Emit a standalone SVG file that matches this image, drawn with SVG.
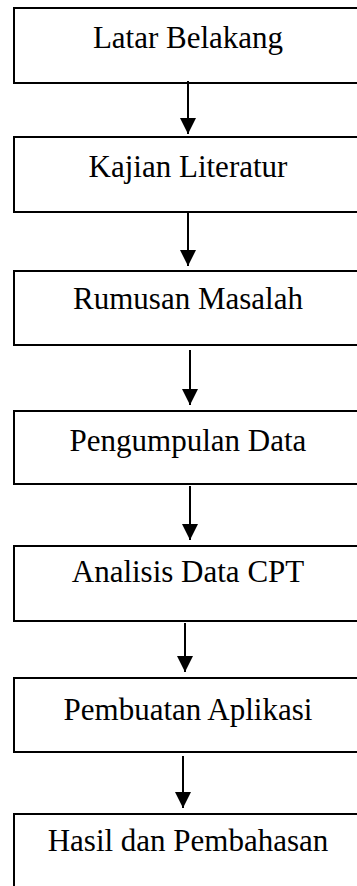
<svg xmlns="http://www.w3.org/2000/svg" width="357" height="886" viewBox="0 0 357 886">
<style>
.box{fill:#fff;stroke:#000;stroke-width:2}
.lbl{font-family:"Liberation Serif","Times New Roman",serif;font-size:31px;fill:#000;text-anchor:middle}
.con line{stroke:#000;stroke-width:2}
</style>
<defs>
<marker id="ah" viewBox="0 0 16 16" refX="16" refY="8" markerWidth="16" markerHeight="16" markerUnits="userSpaceOnUse" orient="auto">
<path d="M0,0 L16,8 L0,16 Z" fill="#000"/>
</marker>
</defs>
<rect width="357" height="886" fill="#fff"/>
<g id="n1"><rect class="box" x="14" y="8" width="348" height="75"/><text class="lbl" x="188" y="48">Latar Belakang</text></g>
<g id="n2"><rect class="box" x="14" y="137" width="348" height="75"/><text class="lbl" x="188" y="177">Kajian Literatur</text></g>
<g id="n3"><rect class="box" x="14" y="271" width="348" height="74"/><text class="lbl" x="188" y="309">Rumusan Masalah</text></g>
<g id="n4"><rect class="box" x="14" y="411" width="348" height="73"/><text class="lbl" x="188" y="451">Pengumpulan Data</text></g>
<g id="n5"><rect class="box" x="14" y="546" width="348" height="75"/><text class="lbl" x="188" y="582">Analisis Data CPT</text></g>
<g id="n6"><rect class="box" x="14" y="678" width="348" height="74"/><text class="lbl" x="188" y="720">Pembuatan Aplikasi</text></g>
<g id="n7"><rect class="box" x="14" y="814" width="348" height="80"/><text class="lbl" x="188" y="851">Hasil dan Pembahasan</text></g>
<g id="connectors" class="con">
<line x1="188" y1="81" x2="188" y2="134" marker-end="url(#ah)"/>
<line x1="188" y1="213" x2="188" y2="266" marker-end="url(#ah)"/>
<line x1="190" y1="350" x2="190" y2="405" marker-end="url(#ah)"/>
<line x1="190" y1="486" x2="190" y2="540" marker-end="url(#ah)"/>
<line x1="185" y1="623" x2="185" y2="672" marker-end="url(#ah)"/>
<line x1="183" y1="756" x2="183" y2="808" marker-end="url(#ah)"/>
</g>
</svg>
